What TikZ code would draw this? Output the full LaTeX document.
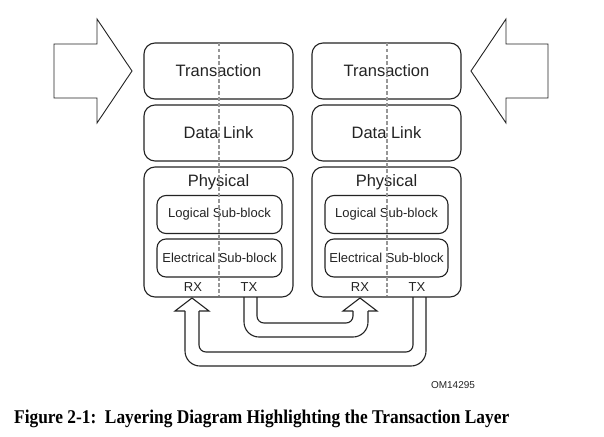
\documentclass[tikz,border=0pt]{standalone}
\usepackage{fontspec}
\setmainfont{Liberation Sans}
\newfontfamily\capfont{Liberation Serif}
\definecolor{ink}{RGB}{35,35,35}
\definecolor{dashgray}{RGB}{150,150,150}
\begin{document}
\begin{tikzpicture}[x=1pt,y=-1pt,
  layer/.style={draw=ink,line width=1.1pt,rounded corners=11pt,minimum width=149pt,minimum height=56pt,inner sep=0pt,text=ink,font=\fontsize{16.5}{18}\selectfont},
  physbox/.style={draw=ink,line width=1.1pt,rounded corners=11pt,minimum width=149pt,minimum height=130pt,inner sep=0pt},
  subbox/.style={draw=ink,line width=1.1pt,rounded corners=9pt,minimum width=125pt,minimum height=38pt,inner sep=0pt,text=ink,font=\fontsize{13}{15}\selectfont},
  lbl/.style={text=ink,inner sep=0pt,font=\fontsize{16.5}{18}\selectfont},
  small/.style={text=ink,inner sep=0pt,font=\fontsize{13}{15}\selectfont},
  bigarrow/.style={draw=ink,line width=0.9pt,fill=white,line join=miter},
  ushaft/.style={draw=ink,line width=1.1pt},
  divider/.style={draw=dashgray,line width=1.1pt,dash pattern=on 3.5pt off 2.5pt}
]
\useasboundingbox (0,0) rectangle (604,436);

% big input arrows
\draw[bigarrow] (54,44) -- (97,44) -- (97,19) -- (132,71) -- (97,123) -- (97,98) -- (54,98) -- cycle;
\draw[bigarrow] (548,44) -- (506,44) -- (506,19) -- (471,71) -- (506,123) -- (506,98) -- (548,98) -- cycle;

% left stack
\node[layer] (t1) at (218.5,71) {Transaction};
\node[layer] (d1) at (218.5,133) {Data Link};
\node[physbox] (p1) at (218.5,232) {};
\node[lbl] (p1l) at (218.5,182) {Physical};
\node[subbox] (l1) at (219.5,214.5) {Logical Sub-block};
\node[subbox] (e1) at (219.5,258) {Electrical Sub-block};
\node[small] (rx1) at (193,287) {RX};
\node[small] (tx1) at (249,287) {TX};

% right stack
\node[layer] (t2) at (386.5,71) {Transaction};
\node[layer] (d2) at (386.5,133) {Data Link};
\node[physbox] (p2) at (386.5,232) {};
\node[lbl] (p2l) at (386.5,182) {Physical};
\node[subbox,minimum width=123pt] (l2) at (386.5,214.5) {Logical Sub-block};
\node[subbox,minimum width=123pt] (e2) at (386.5,258) {Electrical Sub-block};
\node[small] (rx2) at (360,287) {RX};
\node[small] (tx2) at (417,287) {TX};

% dashed dividers
\draw[divider] (219,43) -- (219,296);
\draw[divider] (387,43) -- (387,296);

% TX(left) -> RX(right)
\draw[ushaft,rounded corners=15pt] (244,297) -- (244,337) -- (368,337) -- (368,311);
\draw[ushaft,line join=miter] (368,311) -- (377,311) -- (360,298) -- (343,311) -- (353,311);
\draw[ushaft,rounded corners=7pt] (353,311) -- (353,323) -- (257,323) -- (257,297);

% TX(right) -> RX(left)
\draw[ushaft,rounded corners=15pt] (426,297) -- (426,366) -- (185,366) -- (185,311);
\draw[ushaft,line join=miter] (185,311) -- (175,311) -- (192,298) -- (209,311) -- (199,311);
\draw[ushaft,rounded corners=7pt] (199,311) -- (199,352) -- (413,352) -- (413,297);

\node[text=ink,inner sep=0pt,font=\fontsize{10}{12}\selectfont] (om) at (453,385) {OM14295};
\node[inner sep=0pt,anchor=base west] (cap) at (14,423) {\resizebox{495pt}{13.5pt}{\capfont\bfseries\fontsize{19}{22}\selectfont Figure 2-1:\ \ Layering Diagram Highlighting the Transaction Layer}};
\end{tikzpicture}
\end{document}
